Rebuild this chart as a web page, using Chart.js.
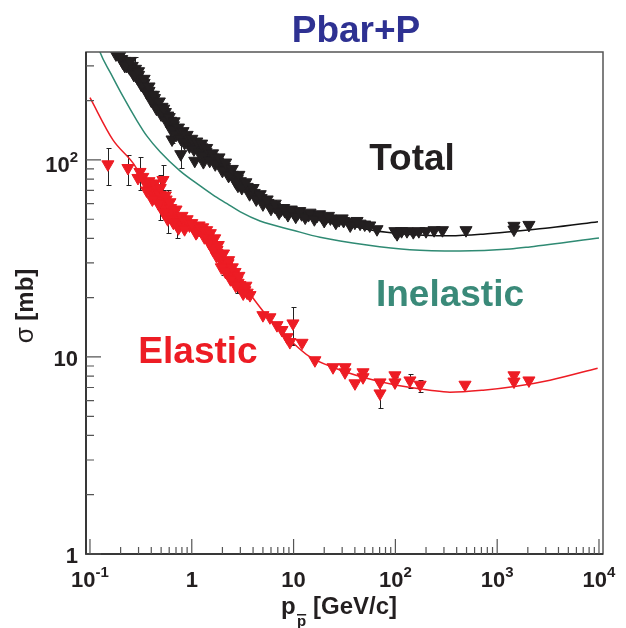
<!DOCTYPE html>
<html>
<head>
<meta charset="utf-8">
<title>Pbar+P</title>
<script src="https://cdn.jsdelivr.net/npm/chart.js@4.4.1/dist/chart.umd.min.js"></script>
<style>
  html, body { margin: 0; padding: 0; background: #fff; }
  #wrap { width: 626px; height: 628px; }
</style>
</head>
<body>
<div id="wrap"><canvas id="chart" width="626" height="628"></canvas></div>
<script>
// ===== Data (p_pbar in GeV/c, sigma in mb) =====
var totalLineX = [0.17, 0.184, 0.29, 0.455, 0.653, 0.9, 1.41, 2.22, 3.48, 5.0, 7.87, 15.5, 28.6, 52, 100, 344, 726, 1567, 3304, 9775];
var totalLineY = [380, 342, 255, 186, 142, 126, 108.7, 89, 73, 62.7, 55.7, 51.3, 48.5, 44.5, 42.5, 41.2, 42, 43.6, 45.3, 48.6];

var inelLineX = [0.12, 0.125, 0.16, 0.211, 0.29, 0.363, 0.488, 0.766, 1.2, 1.61, 2.22, 3.0, 4.68, 9.86, 18.2, 52.6, 139, 431, 1336, 2090, 10000];
var inelLineY = [380, 354, 275, 210, 158, 132, 110, 88, 74, 66.5, 60, 54.5, 49, 44, 40.5, 37, 35, 34.5, 35.3, 36.2, 40.2];

var elLineX = [0.1, 0.168, 0.264, 0.36, 0.5, 0.7, 1.0, 1.3, 1.6, 2.0, 2.5, 3.7, 5.4, 9.2, 14.5, 24.2, 48, 103, 218, 344, 728, 1540, 3300, 9700];
var elLineY = [207, 126.5, 96.6, 75, 62, 52, 46.5, 44, 40, 33, 27.5, 21, 16.3, 12.2, 10, 8.87, 7.89, 7.18, 6.78, 6.62, 6.78, 7.1, 7.62, 8.77];

var totalX = [0.18, 0.195, 0.205, 0.21, 0.22, 0.23, 0.24, 0.245, 0.26, 0.265, 0.27, 0.28, 0.29, 0.30, 0.31, 0.32, 0.33, 0.34, 0.35, 0.36,
  0.37, 0.38, 0.39, 0.40, 0.42, 0.43, 0.45, 0.46, 0.48, 0.50, 0.51, 0.53, 0.55, 0.57, 0.58, 0.60, 0.62, 0.64, 0.64, 0.66,
  0.68, 0.70, 0.72, 0.75, 0.77, 0.78, 0.80, 0.83, 0.86, 0.90, 0.93, 0.96, 1.0, 1.05, 1.07, 1.1, 1.15, 1.2, 1.25, 1.3,
  1.32, 1.38, 1.45, 1.5, 1.6, 1.7, 1.8, 1.9, 2.0, 2.1, 2.2, 2.35, 2.5, 2.65, 2.8, 2.84, 3.0, 3.2, 3.5, 3.8,
  4.1, 4.4, 4.8, 5.2, 5.6, 6.0, 6.5, 7.0, 7.6, 8.2, 9.0, 10, 11, 12, 13, 14, 15.5, 17, 19, 21,
  23, 25, 28, 31, 35, 40, 45, 50, 56, 66, 99, 104, 115, 130, 150, 170, 200, 240, 290, 494,
  1462, 1462, 2050,
  0.20, 0.22, 0.25, 0.27, 0.30, 0.32, 0.34, 0.36, 0.38, 0.40, 0.42, 0.45, 0.48, 0.50, 0.53, 0.56, 0.60, 0.63, 0.67, 0.70,
  0.74, 0.78, 0.82, 0.85, 0.9, 0.95, 1.0, 1.05, 1.12, 1.18, 1.25, 1.3, 1.4, 1.5, 1.6, 1.7, 1.85, 2.0, 2.15, 2.3,
  2.5, 2.7, 2.9, 3.1, 3.4, 3.7, 4.0, 4.3, 4.7, 5.0, 5.5, 6.0, 6.6, 7.2, 8.0, 8.8, 9.5, 10.5, 11.5, 13,
  14.5, 16, 18, 20, 22, 26, 30, 36, 42];
var totalY = [343, 338, 325, 312, 318, 300, 310, 292, 300, 278, 286, 290, 262, 270, 250, 256, 240, 246, 228, 234,
  218, 224, 210, 214, 202, 206, 192, 196, 184, 180, 186, 172, 175, 164, 168, 156, 158, 148, 127, 150,
  142, 144, 138, 135, 138, 107, 132, 129, 130, 126, 123, 125, 121, 122, 99, 117, 119, 114, 116, 97.5,
  111, 110, 107, 105, 103, 100, 98, 96, 93, 92, 89, 87, 84, 82, 80, 74, 78, 75.5, 73, 70.5,
  68, 66, 64, 62, 60.5, 59.5, 58, 57, 56, 55, 54.5, 54, 53.5, 53, 53, 52.5, 52.5, 52, 51.5, 51,
  50.5, 50, 49.5, 49, 48.5, 48, 47.5, 47, 46.5, 44.5, 43.5, 42, 43.5, 43.5, 43, 43.5, 43.5, 44, 44, 44,
  46.3, 44.3, 46.8,
  345, 300, 318, 270, 282, 240, 258, 220, 236, 200, 214, 182, 198, 170, 182, 158, 165, 142, 157, 134,
  146, 128, 140, 122, 134, 117, 128, 113, 124, 109, 121, 105, 115, 99, 108, 95, 103, 88, 97, 83,
  90, 77, 84, 72, 77, 67, 72, 63, 67, 59.5, 63, 56.5, 60, 54, 57, 52.5, 56, 51.5, 55, 51,
  54, 50, 53, 49, 52, 48, 50.5, 46.5, 49];

var totalErrX = [0.28, 0.64, 0.78, 2.84];
var totalErrLo = [264, 122, 91, 70];
var totalErrHi = [334, 132, 122, 77];

var elasticX = [0.150, 0.236, 0.31, 0.296, 0.347, 0.388, 0.40, 0.42, 0.44, 0.455, 0.487, 0.5, 0.52, 0.521, 0.546, 0.56, 0.584, 0.6, 0.62, 0.653,
  0.68, 0.716, 0.75, 0.78, 0.82, 0.88, 0.95, 1.03, 1.08, 1.12, 1.15, 1.2, 1.25, 1.3, 1.35, 1.41, 1.41, 1.45, 1.5, 1.55,
  1.58, 1.61, 1.65, 1.7, 1.77, 1.77, 1.85, 1.9, 1.98, 1.98, 2.03, 2.1, 2.2, 2.27, 2.27, 2.35, 2.45, 2.54, 2.6, 2.66,
  2.78, 2.85, 2.97, 3.1, 3.33, 3.5, 3.73, 5.0, 5.86, 6.87, 7.69, 8.61, 9.2, 9.86, 12.1, 16.2, 24.4, 32, 32, 40.1,
  48.1, 48.1, 70.6, 70.6, 99, 99, 139, 175, 483, 1462, 1462, 2050,
  0.33, 0.36, 0.38, 0.41, 0.43, 0.47, 0.49, 0.53, 0.55, 0.58, 0.61, 0.66, 0.70, 0.74, 0.80, 0.85, 0.90, 1.0, 1.1, 1.18,
  1.28, 1.33, 1.4, 1.48, 1.52, 1.62, 1.68, 1.75, 1.82, 1.95, 2.05, 2.15, 2.3, 2.4, 2.5, 2.7, 2.9, 3.2, 3.4];
var elasticY = [95, 91, 86.9, 81, 77.3, 73, 68, 72, 64, 70.3, 66.4, 62, 58, 79.1, 60.4, 63, 55.7, 52, 57, 54.4,
  50, 46.8, 51, 48, 49.6, 47.5, 46.5, 45.7, 45.5, 43, 44.8, 44.1, 44, 43, 42.2, 41.6, 40.6, 40.5, 39.5, 38.2,
  36.1, 39.2, 37, 35.8, 34.9, 33.7, 33, 31.8, 33, 30.3, 28.6, 30.6, 28.8, 29.9, 27.6, 27, 26, 25.1, 25.5, 27,
  24.6, 23.8, 23.2, 22.5, 21.8, 21.2, 20.6, 16.3, 15.9, 14.5, 13.7, 12.6, 11.9, 14.8, 11.8, 9.62, 8.87, 8.87, 8.36, 7.35,
  8.36, 7.89, 7.43, 6.53, 8.07, 7.43, 7.6, 7.23, 7.23, 8.07, 7.5, 7.6,
  82, 70, 78, 63, 76, 60, 72, 54, 66, 50, 61, 48, 56, 45, 52, 44.5, 50, 47.8, 42.5, 46.5,
  45.5, 40.5, 44, 38, 42.5, 35, 40, 32.5, 37, 28.5, 33.5, 27, 31, 24.8, 28.5, 23, 25.8, 21, 23];

var elasticErrX = [0.150, 0.236, 0.31, 0.521, 0.487, 0.584, 0.716, 1.12, 1.77, 2.03, 2.78, 6.87, 9.86, 70.6, 99, 139, 175];
var elasticErrLo = [74.6, 74.6, 70.3, 70.3, 49.7, 42.6, 40.1, 41.5, 32.5, 26.1, 21.1, 14.0, 11.5, 5.49, 7.9, 6.99, 6.62];
var elasticErrHi = [115, 106, 103.5, 94.3, 84, 70.3, 53.8, 44, 35, 30.7, 25.4, 14.8, 17.9, 7.43, 8.3, 8.17, 7.6];

var xTicks = [0.1, 1, 10, 100, 1000, 10000];
var xTickBase = ['10', '1', '10', '10', '10', '10'];
var xTickExp = ['-1', '', '', '2', '3', '4'];
var yTicks = [1, 10, 100];
var yTickBase = ['1', '10', '10'];
var yTickExp = ['', '', '2'];

var RED = '#ed1c24';
var GREEN = '#2f8a73';
var BLACK = '#231f20';
var FONT = '"Liberation Sans", Arial, Helvetica, sans-serif';

function toPoints(xs, ys) {
  return xs.map(function(x, i) { return { x: x, y: ys[i] }; });
}

function drawErrors(ctx, sx, sy, xs, los, his) {
  ctx.strokeStyle = '#222';
  ctx.lineWidth = 1;
  ctx.beginPath();
  for (var i = 0; i < xs.length; i++) {
    var px = Math.round(sx.getPixelForValue(xs[i])) + 0.5;
    var y1 = Math.round(sy.getPixelForValue(los[i])) + 0.5;
    var y2 = Math.round(sy.getPixelForValue(his[i])) + 0.5;
    ctx.moveTo(px, y1); ctx.lineTo(px, y2);
    ctx.moveTo(px - 2, y1); ctx.lineTo(px + 3, y1);
    ctx.moveTo(px - 2, y2); ctx.lineTo(px + 3, y2);
  }
  ctx.stroke();
}

function drawPow(ctx, base, exp, x, y, align) {
  var big = 'bold 22px ' + FONT, small = 'bold 15px ' + FONT;
  ctx.font = big;
  var wb = ctx.measureText(base).width;
  ctx.font = small;
  var we = exp ? ctx.measureText(exp).width : 0;
  var left = align === 'center' ? x - (wb + we) / 2 : x - (wb + we);
  ctx.textAlign = 'left';
  ctx.textBaseline = 'alphabetic';
  ctx.fillStyle = BLACK;
  ctx.font = big;
  ctx.fillText(base, left, y);
  if (exp) {
    ctx.font = small;
    ctx.fillText(exp, left + wb, y - 10);
  }
}

var rootStyle = {
  id: 'rootStyle',
  beforeDatasetsDraw: function(chart) {
    var ctx = chart.ctx, a = chart.chartArea;
    var sx = chart.scales.x, sy = chart.scales.y;
    ctx.save();
    ctx.beginPath();
    ctx.rect(a.left, a.top, a.right - a.left, a.bottom - a.top);
    ctx.clip();
    drawErrors(ctx, sx, sy, totalErrX, totalErrLo, totalErrHi);
    drawErrors(ctx, sx, sy, elasticErrX, elasticErrLo, elasticErrHi);
    ctx.restore();
  },
  afterDraw: function(chart) {
    var ctx = chart.ctx, a = chart.chartArea;
    var sx = chart.scales.x, sy = chart.scales.y;
    ctx.save();

    // frame
    ctx.lineWidth = 1.5;
    ctx.strokeStyle = '#555';
    ctx.strokeRect(a.left, a.top, a.right - a.left, a.bottom - a.top);
    ctx.strokeStyle = '#222';
    ctx.beginPath();
    ctx.moveTo(a.left, a.top); ctx.lineTo(a.left, a.bottom); ctx.lineTo(a.right, a.bottom);
    ctx.stroke();

    // ticks (inside, ROOT style)
    ctx.strokeStyle = '#555';
    ctx.lineWidth = 1.2;
    ctx.beginPath();
    xTicks.forEach(function(t) {
      var px = sx.getPixelForValue(t);
      ctx.moveTo(px, a.bottom); ctx.lineTo(px, a.bottom - 15);
      if (t < 10000) {
        for (var m = 2; m <= 9; m++) {
          var pm = sx.getPixelForValue(t * m);
          if (pm < a.right) { ctx.moveTo(pm, a.bottom); ctx.lineTo(pm, a.bottom - 7); }
        }
      }
    });
    yTicks.forEach(function(t) {
      var py = sy.getPixelForValue(t);
      ctx.moveTo(a.left, py); ctx.lineTo(a.left + 15, py);
      for (var m = 2; m <= 9; m++) {
        var pm = sy.getPixelForValue(t * m);
        if (pm > a.top) { ctx.moveTo(a.left, pm); ctx.lineTo(a.left + 8, pm); }
      }
    });
    ctx.stroke();

    // tick labels
    xTicks.forEach(function(t, i) {
      drawPow(ctx, xTickBase[i], xTickExp[i], sx.getPixelForValue(t), 587, 'center');
    });
    yTicks.forEach(function(t, i) {
      var py = sy.getPixelForValue(t);
      drawPow(ctx, yTickBase[i], yTickExp[i], 78, py + (yTickExp[i] ? 12 : 9), 'right');
    });

    // x axis title: p_{pbar} [GeV/c]
    ctx.fillStyle = BLACK;
    ctx.textAlign = 'left';
    ctx.font = 'bold 24px ' + FONT;
    ctx.fillText('p', 281, 614);
    ctx.font = 'bold 15px ' + FONT;
    ctx.fillText('p', 297, 626);
    var wp = ctx.measureText('p').width;
    ctx.fillRect(297, 614, wp, 1.5);
    ctx.font = 'bold 24px ' + FONT;
    ctx.fillText('[GeV/c]', 313, 614);

    // y axis title: sigma [mb]
    ctx.save();
    ctx.translate(33, 306);
    ctx.rotate(-Math.PI / 2);
    ctx.font = '26px ' + FONT;
    var ws = ctx.measureText('\u03c3').width;
    ctx.font = 'bold 24px ' + FONT;
    var wm = ctx.measureText(' [mb]').width;
    var start = -(ws + wm) / 2;
    ctx.font = '26px ' + FONT;
    ctx.fillText('\u03c3', start, 0);
    ctx.font = 'bold 24px ' + FONT;
    ctx.fillText(' [mb]', start + ws, 0);
    ctx.restore();

    // title and curve labels
    ctx.textAlign = 'center';
    ctx.font = 'bold 37px ' + FONT;
    ctx.fillStyle = '#2e3192';
    ctx.fillText('Pbar+P', 356, 42);
    ctx.fillStyle = BLACK;
    ctx.fillText('Total', 412, 170);
    ctx.fillStyle = '#3a8a79';
    ctx.fillText('Inelastic', 450, 306);
    ctx.fillStyle = RED;
    ctx.fillText('Elastic', 198, 363);

    ctx.restore();
  }
};

function lineSet(xs, ys, color) {
  return {
    data: toPoints(xs, ys), showLine: true, borderColor: color, borderWidth: 1.5,
    pointRadius: 0, cubicInterpolationMode: 'monotone', order: 2
  };
}

function markerSet(xs, ys, color) {
  return {
    data: toPoints(xs, ys), showLine: false, pointStyle: 'triangle', rotation: 180,
    pointRadius: 7, backgroundColor: color, borderColor: color, borderWidth: 1, order: 1
  };
}

new Chart(document.getElementById('chart').getContext('2d'), {
  type: 'scatter',
  data: {
    datasets: [
      lineSet(totalLineX, totalLineY, '#111'),
      lineSet(inelLineX, inelLineY, GREEN),
      lineSet(elLineX, elLineY, RED),
      markerSet(totalX, totalY, BLACK),
      markerSet(elasticX, elasticY, RED)
    ]
  },
  options: {
    responsive: false,
    animation: false,
    devicePixelRatio: 1,
    layout: { padding: { left: 86, right: 23, top: 52, bottom: 74 } },
    plugins: { legend: { display: false }, tooltip: { enabled: false }, title: { display: false } },
    scales: {
      x: { type: 'logarithmic', min: 0.0914, max: 10950, display: false },
      y: { type: 'logarithmic', min: 1, max: 353, display: false }
    }
  },
  plugins: [rootStyle]
});
</script>
</body>
</html>
